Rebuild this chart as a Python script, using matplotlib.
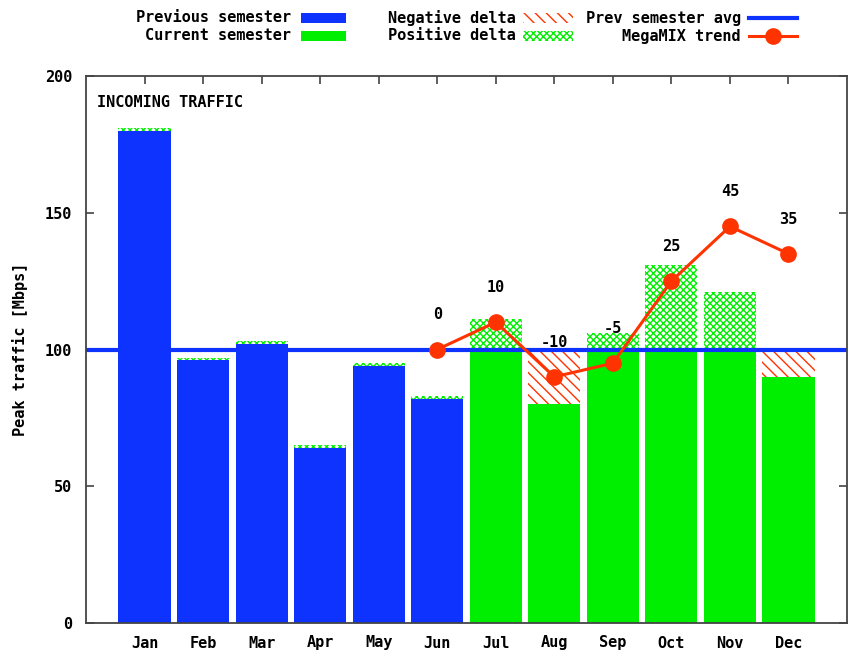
import matplotlib
matplotlib.use("Agg")
import matplotlib.pyplot as plt
from matplotlib.patches import Rectangle
from matplotlib.lines import Line2D

months = ["Jan", "Feb", "Mar", "Apr", "May", "Jun",
          "Jul", "Aug", "Sep", "Oct", "Nov", "Dec"]
prev_semester = [180, 96, 102, 64, 94, 82]
prev_delta = [1, 1, 1, 1, 1, 1]
current_semester = [111, 80, 106, 131, 121, 90]
prev_avg = 100
trend_months = ["Jun", "Jul", "Aug", "Sep", "Oct", "Nov", "Dec"]
trend_values = [100, 110, 90, 95, 125, 145, 135]
trend_labels = ["0", "10", "-10", "-5", "25", "45", "35"]
yticks = [0, 50, 100, 150, 200]

BLUE = "#0f33ff"
GREEN = "#00ee00"
RED = "#ff3300"
FONT = ["DejaVu Sans Mono"]
FS = 11
POS_HATCH = "xxxxx"
NEG_HATCH = "\\" * 3

plt.rcParams["font.family"] = FONT
plt.rcParams["font.weight"] = "bold"
plt.rcParams["hatch.linewidth"] = 1.0

fig = plt.figure(figsize=(8.51, 6.5), dpi=100)
W, H = 851, 650
ax = fig.add_axes([86 / W, (H - 623) / H, (847 - 86) / W, (623 - 76) / H])

xpos = {m: i + 1 for i, m in enumerate(months)}
bw = 0.89

# previous semester
for i, (v, d) in enumerate(zip(prev_semester, prev_delta)):
    x = xpos[months[i]]
    ax.bar(x, v, width=bw, color=BLUE, linewidth=0, zorder=2)
    ax.bar(x, d, bottom=v, width=bw, facecolor="none", edgecolor=GREEN,
           hatch=POS_HATCH, linewidth=0, zorder=2)

# current semester
for j, v in enumerate(current_semester):
    x = xpos[months[6 + j]]
    base = min(v, prev_avg)
    ax.bar(x, base, width=bw, color=GREEN, linewidth=0, zorder=2)
    if v > prev_avg:
        ax.bar(x, v - prev_avg, bottom=prev_avg, width=bw, facecolor="none",
               edgecolor=GREEN, hatch=POS_HATCH, linewidth=0, zorder=2)
    elif v < prev_avg:
        ax.bar(x, prev_avg - v, bottom=v, width=bw, facecolor="none",
               edgecolor=RED, hatch=NEG_HATCH, linewidth=0, zorder=2)

ax.axhline(prev_avg, color=BLUE, linewidth=3, zorder=3)

tx = [xpos[m] for m in trend_months]
ax.plot(tx, trend_values, color=RED, linewidth=2.2, marker="o",
        markersize=11, zorder=4)
for x, y, lab in zip(tx, trend_values, trend_labels):
    ax.annotate(lab, (x, y), xytext=(0, 25), textcoords="offset points",
                ha="center", va="center", fontsize=FS, fontweight="bold")

ax.text(0.014, 0.965, "INCOMING TRAFFIC", transform=ax.transAxes,
        ha="left", va="top", fontsize=FS, fontweight="bold")

ax.set_xlim(0, 13)
ax.set_ylim(0, 200)
ax.set_yticks(yticks)
ax.set_xticks(range(1, 13))
ax.set_xticklabels(months)
ax.tick_params(axis="both", direction="in", length=6, width=1.2,
               color="#444444", labelsize=FS)
ax.tick_params(axis="x", top=True, pad=9)
ax.tick_params(axis="y", right=True, pad=10)
for lab in ax.get_xticklabels() + ax.get_yticklabels():
    lab.set_fontweight("bold")
for s in ax.spines.values():
    s.set_color("#444444")
    s.set_linewidth(1.3)
    s.set_zorder(5)
ax.set_ylabel("Peak traffic [Mbps]", fontsize=FS, fontweight="bold", labelpad=12)

# legend (manual, gnuplot style)
def fx(px):
    return px / W

def fy(py):
    return 1 - py / H

rows = [18, 36]
entries = [
    (291, "Previous semester", ("box", BLUE), 301, 346),
    (291, "Current semester", ("box", GREEN), 301, 346),
    (516, "Negative delta", ("hatch", RED, NEG_HATCH), 523, 573),
    (516, "Positive delta", ("hatch", GREEN, POS_HATCH), 523, 573),
    (741, "Prev semester avg", ("line", BLUE), 749, 797),
    (741, "MegaMIX trend", ("trend", RED), 749, 797),
]
for k, (tr, text, kind, x0, x1) in enumerate(entries):
    yrow = rows[k % 2]
    fig.text(fx(tr), fy(yrow), text, ha="right", va="center",
             fontsize=FS, fontweight="bold")
    if kind[0] == "box":
        fig.patches.append(Rectangle((fx(x0), fy(yrow + 5)), fx(x1 - x0), 10 / H,
                                     transform=fig.transFigure, facecolor=kind[1],
                                     edgecolor="none"))
    elif kind[0] == "hatch":
        fig.patches.append(Rectangle((fx(x0), fy(yrow + 5)), fx(x1 - x0), 10 / H,
                                     transform=fig.transFigure, facecolor="none",
                                     edgecolor=kind[1], hatch=kind[2], linewidth=0))
    elif kind[0] == "line":
        fig.lines.append(Line2D([fx(x0), fx(x1)], [fy(yrow), fy(yrow)],
                                transform=fig.transFigure, color=kind[1], linewidth=3))
    else:
        fig.lines.append(Line2D([fx(x0), fx(x1)], [fy(yrow), fy(yrow)],
                                transform=fig.transFigure, color=kind[1], linewidth=2.2))
        fig.lines.append(Line2D([fx((x0 + x1) / 2)], [fy(yrow)], marker="o",
                                markersize=11, transform=fig.transFigure,
                                color=kind[1]))

fig.savefig("out.png", dpi=100)
